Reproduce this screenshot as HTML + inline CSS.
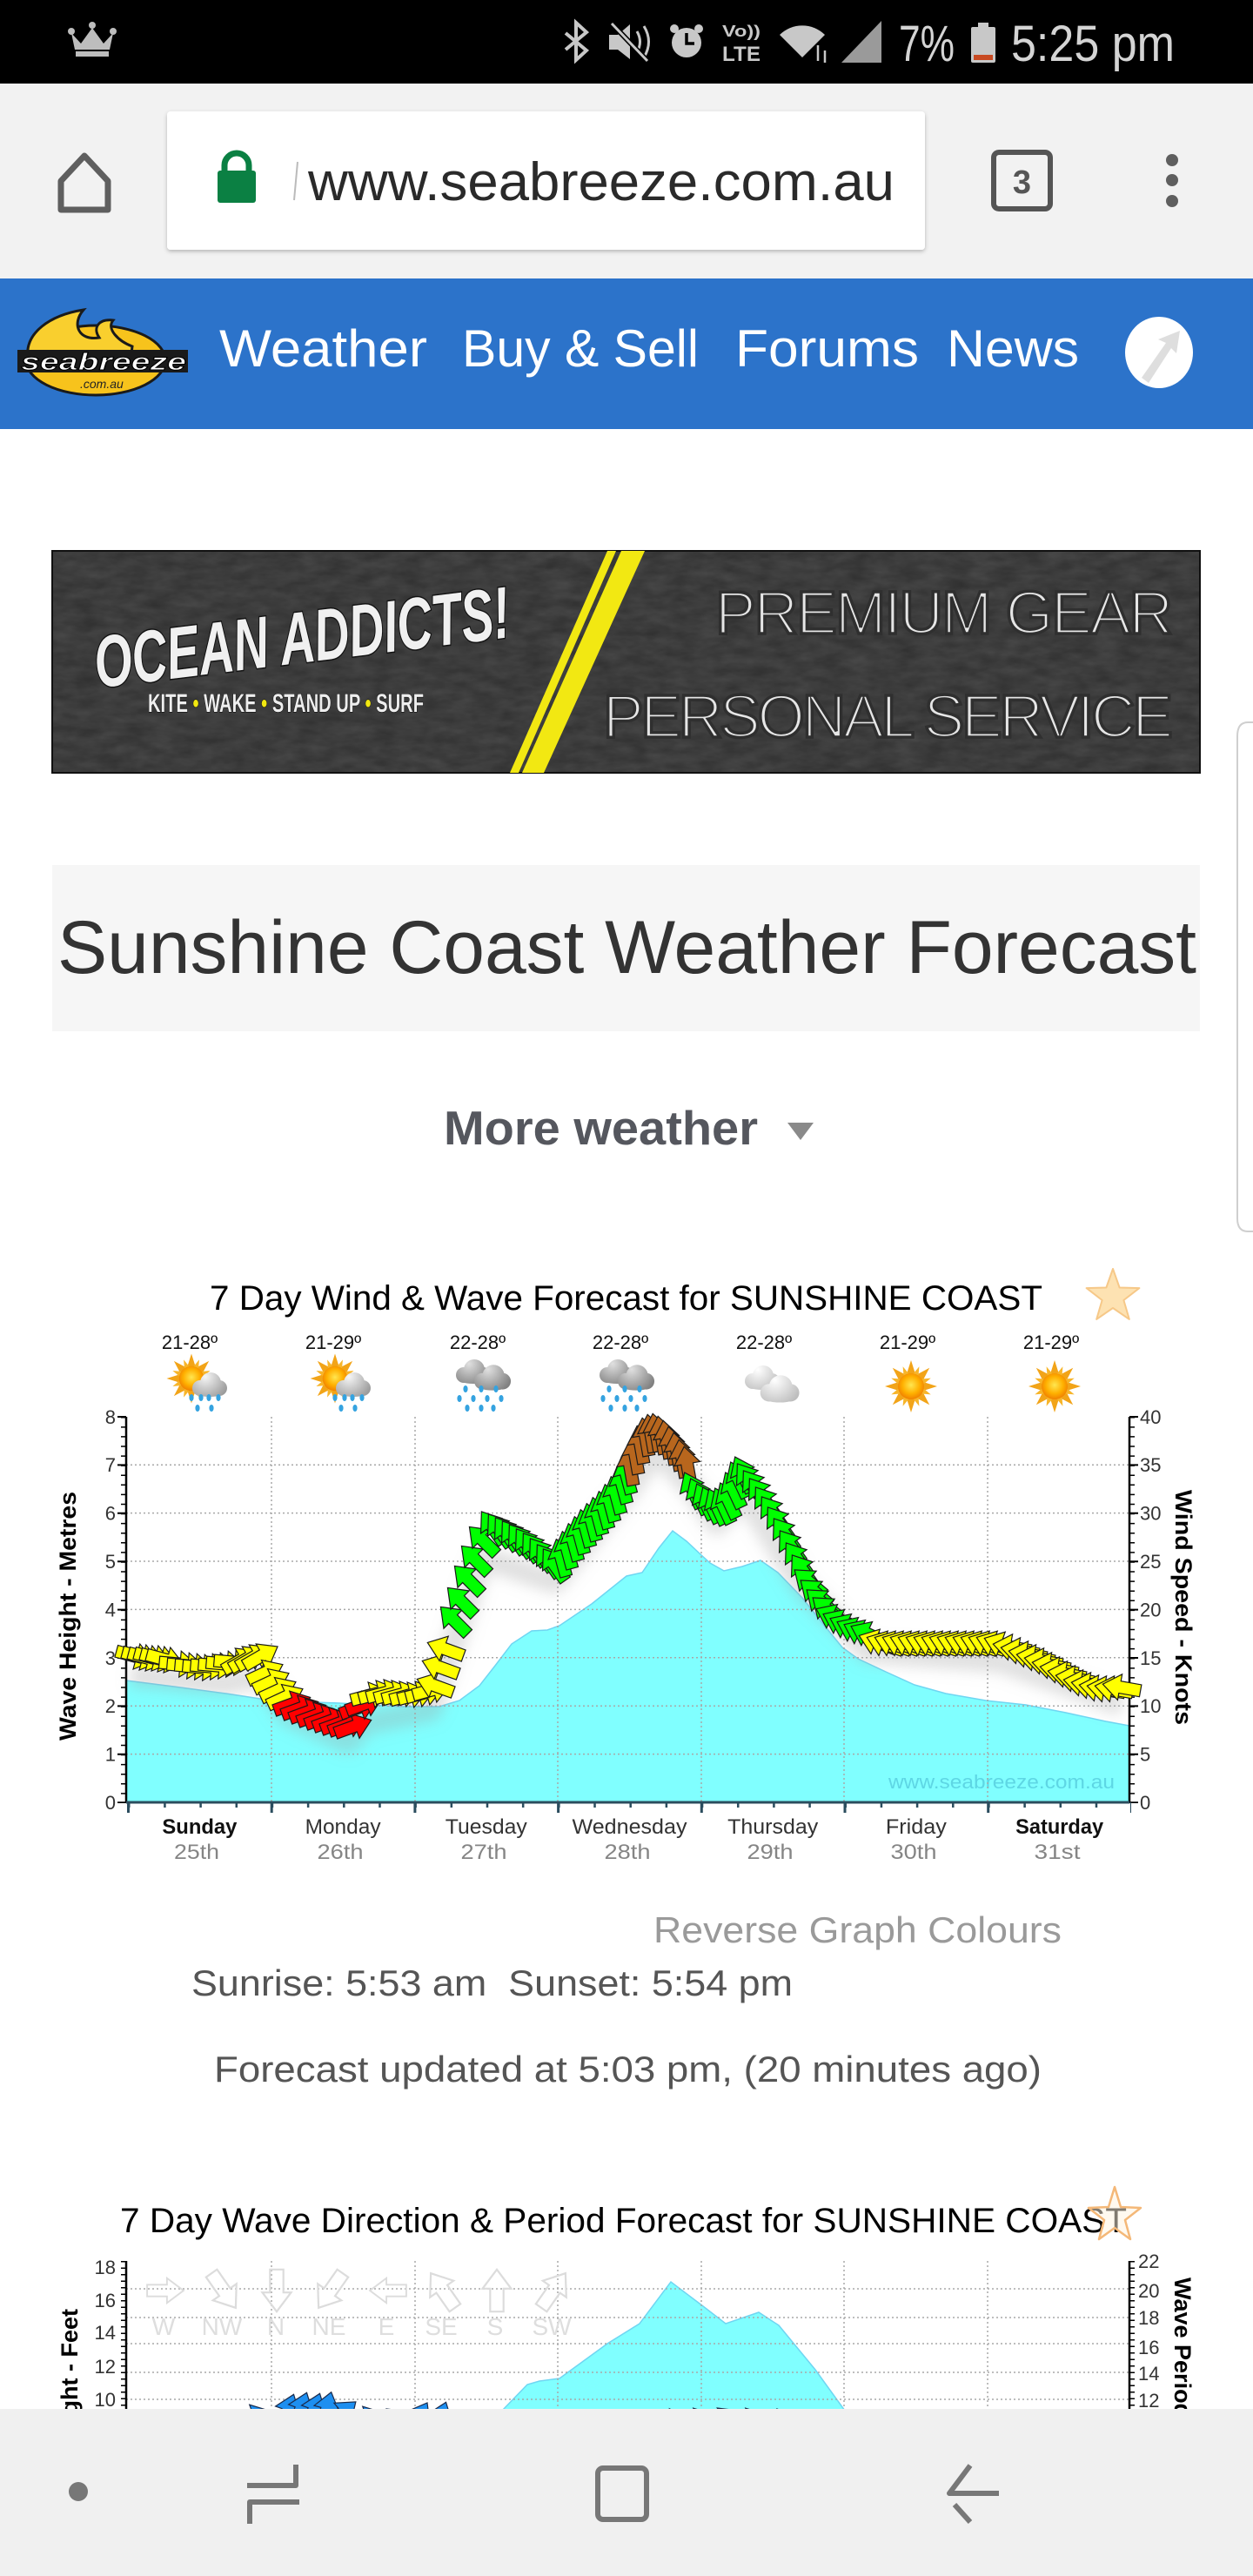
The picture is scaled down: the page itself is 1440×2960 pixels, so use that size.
<!DOCTYPE html>
<html><head><meta charset="utf-8"><title>Sunshine Coast Weather Forecast</title>
<style>
html,body{margin:0;padding:0;background:#fff;width:1440px;height:2960px;overflow:hidden}
svg{display:block}
text{font-family:"Liberation Sans",Arial,sans-serif}
</style></head><body>
<svg width="1440" height="2960" viewBox="0 0 1440 2960" xmlns="http://www.w3.org/2000/svg">
<defs>
<path id="ar" d="M-22,-7 L2,-7 L2,-15 L22,0 L2,15 L2,7 L-22,7 Z"/>
<radialGradient id="sunG" cx="50%" cy="45%" r="55%"><stop offset="0" stop-color="#ffe650"/><stop offset="0.6" stop-color="#ffb000"/><stop offset="1" stop-color="#f08000"/></radialGradient>
<radialGradient id="cloudG" gradientUnits="userSpaceOnUse" cx="-4" cy="-10" r="28"><stop offset="0" stop-color="#f6f6f6"/><stop offset="1" stop-color="#9c9c9c"/></radialGradient>
<radialGradient id="cloudD" gradientUnits="userSpaceOnUse" cx="-4" cy="-10" r="28"><stop offset="0" stop-color="#e0e0e0"/><stop offset="1" stop-color="#808080"/></radialGradient>
<radialGradient id="cloudL" gradientUnits="userSpaceOnUse" cx="-4" cy="-10" r="28"><stop offset="0" stop-color="#ffffff"/><stop offset="1" stop-color="#bdbdbd"/></radialGradient>
<polygon id="ray8" points="0,-30 5.4,-12.9 21.2,-21.2 12.9,-5.4 30,0 12.9,5.4 21.2,21.2 5.4,12.9 0,30 -5.4,12.9 -21.2,21.2 -12.9,5.4 -30,0 -12.9,-5.4 -21.2,-21.2 -5.4,-12.9"/>
<g id="sun">
<use href="#ray8" fill="#f2a418"/>
<use href="#ray8" fill="#f7b52a" transform="rotate(22.5) scale(0.82)"/>
<circle r="15" fill="url(#sunG)"/>
</g>
<g id="cloud">
<circle cx="-10" cy="3" r="9"/><circle cx="2" cy="-3" r="12"/><circle cx="12" cy="3" r="9"/><ellipse cx="1" cy="6" rx="19" ry="7"/>
</g>
<ellipse id="drop" rx="2.6" ry="4" fill="#35a3e0"/>
<filter id="blur" x="-10%" y="-30%" width="120%" height="160%"><feGaussianBlur stdDeviation="8"/></filter>
<filter id="sh" x="-5%" y="-5%" width="110%" height="120%"><feDropShadow dx="0" dy="2" stdDeviation="2.5" flood-color="#000" flood-opacity="0.25"/></filter>
<filter id="tex" x="0" y="0" width="100%" height="100%">
<feTurbulence type="fractalNoise" baseFrequency="0.035 0.09" numOctaves="3" seed="4" result="n"/>
<feColorMatrix in="n" type="matrix" values="0 0 0 0 1  0 0 0 0 1  0 0 0 0 1  0 0 0 0.22 0"/>
</filter>
</defs>

<!-- STATUS BAR -->
<rect x="0" y="0" width="1440" height="96" fill="#000"/>
<g fill="#bdbdbd">
<polygon points="82,38 93,50 106,32 119,50 130,38 126,57 86,57"/>
<rect x="87" y="59" width="38" height="6"/>
<circle cx="82" cy="36" r="4"/><circle cx="106" cy="29" r="4"/><circle cx="130" cy="36" r="4"/>
</g>
<polyline points="650,38 674,58 662,69 662,26 674,37 650,57" fill="none" stroke="#c8c8c8" stroke-width="4"/>
<polygon points="700,40 710,40 724,28 724,68 710,57 700,57" fill="#c8c8c8"/>
<path d="M732,36 Q739,48 732,60 M740,30 Q751,48 740,66" fill="none" stroke="#c8c8c8" stroke-width="3"/>
<line x1="703" y1="27" x2="744" y2="70" stroke="#000" stroke-width="6"/>
<line x1="703" y1="27" x2="744" y2="70" stroke="#c8c8c8" stroke-width="3"/>
<circle cx="775" cy="33" r="5" fill="#c8c8c8"/><circle cx="803" cy="33" r="5" fill="#c8c8c8"/>
<circle cx="789" cy="49" r="17" fill="#c8c8c8"/>
<path d="M789,38 V50 H798" fill="none" stroke="#000" stroke-width="3.5"/>
<text x="830" y="42" font-size="18" font-weight="bold" fill="#c8c8c8" textLength="44" lengthAdjust="spacingAndGlyphs">Vo))</text>
<text x="830" y="70" font-size="24" font-weight="bold" fill="#c8c8c8" textLength="44" lengthAdjust="spacingAndGlyphs">LTE</text>
<path d="M922,66 L896,40 A37,37 0 0 1 948,40 Z" fill="#c8c8c8"/>
<path d="M940,52 v18 M948,58 v14" stroke="#c8c8c8" stroke-width="2.5"/>
<polygon points="967,72 1013,24 1013,72" fill="#9a9a9a"/>
<text x="1033" y="70" font-size="58" fill="#d4d4d4" textLength="64" lengthAdjust="spacingAndGlyphs">7%</text>
<rect x="1124" y="26" width="12" height="6" fill="#c8c8c8"/>
<rect x="1116" y="31" width="28" height="41" rx="2" fill="#c8c8c8"/>
<rect x="1119" y="63" width="22" height="6" fill="#c84a22"/>
<text x="1162" y="70" font-size="58" fill="#d4d4d4" textLength="188" lengthAdjust="spacingAndGlyphs">5:25 pm</text>

<!-- BROWSER BAR -->
<rect x="0" y="96" width="1440" height="224" fill="#f2f2f2"/>
<path d="M70,241 L70,208 L97,179 L124,208 L124,241 Z" fill="none" stroke="#5f5f5f" stroke-width="7" stroke-linejoin="round"/>
<rect x="192" y="128" width="871" height="159" rx="4" fill="#fff" filter="url(#sh)"/>
<path d="M258,199 V190 A14,14 0 0 1 286,190 V199" fill="none" stroke="#0b8043" stroke-width="7"/>
<rect x="250" y="196" width="44" height="37" rx="3" fill="#0b8043"/>
<line x1="342" y1="186" x2="338" y2="230" stroke="#bbb" stroke-width="2"/>
<text x="354" y="230" font-size="62" fill="#2a2a2a" textLength="674" lengthAdjust="spacingAndGlyphs">www.seabreeze.com.au</text>
<rect x="1142" y="175" width="65" height="65" rx="6" fill="none" stroke="#555" stroke-width="6"/>
<text x="1174.5" y="222" font-size="38" font-weight="bold" fill="#555" text-anchor="middle">3</text>
<circle cx="1347" cy="184" r="7" fill="#5f5f5f"/><circle cx="1347" cy="207" r="7" fill="#5f5f5f"/><circle cx="1347" cy="231" r="7" fill="#5f5f5f"/>

<!-- NAV -->
<rect x="0" y="320" width="1440" height="173" fill="#2c73ca"/>
<ellipse cx="110" cy="414" rx="80" ry="40" fill="#f7c31c" stroke="#1a1a1a" stroke-width="3"/>
<path d="M32,412 C28,382 58,362 96,356 C82,372 90,392 114,388 C106,376 114,366 130,368 C122,378 136,392 152,398 L150,414 L32,414 Z" fill="#f9cf2e" stroke="#1a1a1a" stroke-width="3"/>
<rect x="20" y="402" width="196" height="26" fill="#1a1a1a"/>
<text x="24" y="425" font-size="28" font-weight="bold" font-style="italic" fill="#fff" stroke="#000" stroke-width="1" textLength="190" lengthAdjust="spacingAndGlyphs">seabreeze</text>
<text x="92" y="446" font-size="14" font-style="italic" fill="#222">.com.au</text>
<g fill="#fff" font-size="60">
<text x="252" y="421" textLength="239" lengthAdjust="spacingAndGlyphs">Weather</text>
<text x="531" y="421" textLength="272" lengthAdjust="spacingAndGlyphs">Buy &amp; Sell</text>
<text x="845" y="421" textLength="211" lengthAdjust="spacingAndGlyphs">Forums</text>
<text x="1088" y="421" textLength="152" lengthAdjust="spacingAndGlyphs">News</text>
</g>
<ellipse cx="1332" cy="405" rx="39" ry="41" fill="#fff"/>
<polygon points="1312,434 1340,394 1331,390 1356,380 1352,406 1346,400 1320,440" fill="#dedede"/>

<!-- EDGE HANDLE -->
<path d="M1440,830 L1434,830 Q1422,830 1422,846 L1422,1400 Q1422,1415 1434,1415 L1440,1415" fill="#fff" stroke="#cfcfcf" stroke-width="2"/>

<!-- AD BANNER -->
<rect x="60" y="633" width="1319" height="255" fill="#2f2f2f" stroke="#111" stroke-width="2"/>
<rect x="61" y="634" width="1317" height="253" filter="url(#tex)" opacity="0.6"/>
<polygon points="698,633 708,633 596,888 586,888" fill="#f2e812"/>
<polygon points="714,633 741,633 625,888 600,888" fill="#f2e812"/>
<text x="822" y="728" font-size="70" fill="#e6e6e6" stroke="#2f2f2f" stroke-width="3.5" textLength="526">PREMIUM GEAR</text>
<text x="693" y="847" font-size="70" fill="#e6e6e6" stroke="#2f2f2f" stroke-width="3.5" textLength="655">PERSONAL SERVICE</text>
<g transform="rotate(-7 115 790)">
<text x="112" y="790" font-size="84" font-weight="bold" font-style="italic" fill="#f0f0f0" stroke="#111" stroke-width="3" paint-order="stroke" textLength="480" lengthAdjust="spacingAndGlyphs">OCEAN ADDICTS!</text>
</g>
<text x="170" y="818" font-size="30" font-weight="bold" fill="#eee" stroke="#000" stroke-width="1" paint-order="stroke" textLength="317" lengthAdjust="spacingAndGlyphs">KITE <tspan fill="#f2e812">•</tspan> WAKE <tspan fill="#f2e812">•</tspan> STAND UP <tspan fill="#f2e812">•</tspan> SURF</text>

<!-- TITLE -->
<rect x="60" y="994" width="1319" height="191" fill="#f6f6f6"/>
<text x="66" y="1118" font-size="86" fill="#333" textLength="1309" lengthAdjust="spacingAndGlyphs">Sunshine Coast Weather Forecast</text>
<text x="510" y="1315" font-size="55" font-weight="bold" fill="#55575e" textLength="361" lengthAdjust="spacingAndGlyphs">More weather</text>
<polygon points="905,1290 935,1290 920,1310" fill="#8a8a8a"/>

<!-- CHART 1 -->
<text x="241" y="1505" font-size="40" fill="#000" textLength="957" lengthAdjust="spacingAndGlyphs">7 Day Wind &amp; Wave Forecast for SUNSHINE COAST</text>
<polygon points="1279,1458 1286.6,1479.5 1309.4,1480.1 1291.4,1494 1297.8,1515.9 1279,1503 1260.2,1515.9 1266.6,1494 1248.6,1480.1 1271.4,1479.5" fill="#fde2b2" stroke="#f6c888" stroke-width="2" stroke-linejoin="round"/>
<g font-size="22" fill="#111" text-anchor="middle">
<text x="218" y="1550">21-28º</text><text x="383" y="1550">21-29º</text><text x="549" y="1550">22-28º</text><text x="713" y="1550">22-28º</text><text x="878" y="1550">22-28º</text><text x="1043" y="1550">21-29º</text><text x="1208" y="1550">21-29º</text>
</g>
<!-- icons -->
<g transform="translate(227,1592)">
<use href="#sun" transform="translate(-7,-8) scale(0.95)"/>
<use href="#cloud" fill="url(#cloudG)" transform="translate(13,0)"/>
<use href="#drop" x="-7" y="14"/><use href="#drop" x="4" y="14"/><use href="#drop" x="13" y="14"/><use href="#drop" x="24" y="14"/><use href="#drop" x="0" y="26"/><use href="#drop" x="16" y="26"/>
</g>
<g transform="translate(392,1592)">
<use href="#sun" transform="translate(-7,-8) scale(0.95)"/>
<use href="#cloud" fill="url(#cloudG)" transform="translate(13,0)"/>
<use href="#drop" x="-7" y="14"/><use href="#drop" x="4" y="14"/><use href="#drop" x="13" y="14"/><use href="#drop" x="24" y="14"/><use href="#drop" x="0" y="26"/><use href="#drop" x="16" y="26"/>
</g>
<g transform="translate(556,1592)">
<use href="#cloud" fill="url(#cloudD)" transform="translate(-13,-15)"/>
<use href="#cloud" fill="url(#cloudD)" transform="translate(9,-8) scale(1.05)"/>
<use href="#drop" x="-21" y="4"/><use href="#drop" x="-3" y="4"/><use href="#drop" x="14" y="4"/>
<use href="#drop" x="-28" y="15"/><use href="#drop" x="-12" y="15"/><use href="#drop" x="4" y="15"/><use href="#drop" x="20" y="15"/>
<use href="#drop" x="-19" y="26"/><use href="#drop" x="-3" y="26"/><use href="#drop" x="11" y="26"/>
</g>
<g transform="translate(721,1592)">
<use href="#cloud" fill="url(#cloudD)" transform="translate(-13,-15)"/>
<use href="#cloud" fill="url(#cloudD)" transform="translate(9,-8) scale(1.05)"/>
<use href="#drop" x="-21" y="4"/><use href="#drop" x="-3" y="4"/><use href="#drop" x="14" y="4"/>
<use href="#drop" x="-28" y="15"/><use href="#drop" x="-12" y="15"/><use href="#drop" x="4" y="15"/><use href="#drop" x="20" y="15"/>
<use href="#drop" x="-19" y="26"/><use href="#drop" x="-3" y="26"/><use href="#drop" x="11" y="26"/>
</g>
<g transform="translate(884,1592)">
<use href="#cloud" fill="url(#cloudL)" transform="translate(-9,-8)"/>
<use href="#cloud" fill="url(#cloudL)" transform="translate(11,5) scale(1.12)"/>
</g>
<use href="#sun" transform="translate(1047,1593)"/>
<use href="#sun" transform="translate(1212,1593)"/>

<!-- area -->
<polygon points="145,2071 145,1931 200,1938 260,1946 312,1954 390,1957 459,1961 505,1961 528,1954 551,1937 569,1914 588,1889 611,1874 629,1873 643,1868 680,1843 720,1811 738,1807 757,1779 773,1759 789,1771 805,1786 816,1796 832,1805 853,1800 874,1793 894,1807 922,1836 950,1871 968,1893 986,1906 1018,1921 1051,1936 1087,1946 1133,1954 1179,1959 1225,1968 1271,1978 1298,1983 1298,2071" fill="#80ffff" stroke="#6fd6f2" stroke-width="1.5"/>
<text x="1021" y="2055" font-size="22" fill="#5ed6e4" textLength="260" lengthAdjust="spacingAndGlyphs">www.seabreeze.com.au</text>
<!-- grid -->
<g stroke="#a8a8a8" stroke-width="1.5" stroke-dasharray="2,3" fill="none">
<path d="M145,2015.6 H1298 M145,1960.2 H1298 M145,1904.8 H1298 M145,1849.4 H1298 M145,1794 H1298 M145,1738.6 H1298 M145,1683.2 H1298"/>
<path d="M312,1628 V2071 M477,1628 V2071 M641,1628 V2071 M806,1628 V2071 M970,1628 V2071 M1135,1628 V2071"/>
</g>
<!-- axes -->
<line x1="145" y1="1628" x2="145" y2="2072" stroke="#000" stroke-width="2.5"/>
<line x1="142" y1="1628" x2="142" y2="2071" stroke="#000" stroke-width="6" stroke-dasharray="1.5,9.58"/>
<line x1="140" y1="1627" x2="140" y2="2072" stroke="#000" stroke-width="10" stroke-dasharray="2,53.4"/>
<line x1="1298" y1="1628" x2="1298" y2="2072" stroke="#000" stroke-width="2.5"/>
<line x1="1301" y1="1628" x2="1301" y2="2071" stroke="#000" stroke-width="6" stroke-dasharray="1.5,9.58"/>
<line x1="1303" y1="1627" x2="1303" y2="2072" stroke="#000" stroke-width="10" stroke-dasharray="2,53.4"/>
<line x1="145" y1="2071" x2="1298" y2="2071" stroke="#2b4d5e" stroke-width="3"/>
<line x1="147" y1="2074" x2="1300" y2="2074" stroke="#2b4d5e" stroke-width="6" stroke-dasharray="2.5,38.675"/>
<line x1="146" y1="2077" x2="1300" y2="2077" stroke="#2b4d5e" stroke-width="12" stroke-dasharray="3,161.7"/>
<g font-size="22" fill="#333" text-anchor="end">
<text x="133" y="2079">0</text><text x="133" y="2023.6">1</text><text x="133" y="1968.2">2</text><text x="133" y="1912.8">3</text><text x="133" y="1857.4">4</text><text x="133" y="1802">5</text><text x="133" y="1746.6">6</text><text x="133" y="1691.2">7</text><text x="133" y="1635.8">8</text>
</g>
<g font-size="22" fill="#333">
<text x="1310" y="2079">0</text><text x="1310" y="2023.6">5</text><text x="1310" y="1968.2">10</text><text x="1310" y="1912.8">15</text><text x="1310" y="1857.4">20</text><text x="1310" y="1802">25</text><text x="1310" y="1746.6">30</text><text x="1310" y="1691.2">35</text><text x="1310" y="1635.8">40</text>
</g>
<text transform="translate(87,1857) rotate(-90)" font-size="27" font-weight="bold" fill="#000" text-anchor="middle" textLength="286" lengthAdjust="spacingAndGlyphs">Wave Height - Metres</text>
<text transform="translate(1351,1847) rotate(90)" font-size="27" font-weight="bold" fill="#000" text-anchor="middle" textLength="270" lengthAdjust="spacingAndGlyphs">Wind Speed - Knots</text>
<g font-size="24" text-anchor="middle">
<text x="229.4" y="2107" font-weight="bold" fill="#111" textLength="86" lengthAdjust="spacingAndGlyphs">Sunday</text>
<text x="394.1" y="2107" fill="#333" textLength="87" lengthAdjust="spacingAndGlyphs">Monday</text>
<text x="558.8" y="2107" fill="#333" textLength="94" lengthAdjust="spacingAndGlyphs">Tuesday</text>
<text x="723.5" y="2107" fill="#333" textLength="132" lengthAdjust="spacingAndGlyphs">Wednesday</text>
<text x="888.2" y="2107" fill="#333" textLength="104" lengthAdjust="spacingAndGlyphs">Thursday</text>
<text x="1052.9" y="2107" fill="#333" textLength="70" lengthAdjust="spacingAndGlyphs">Friday</text>
<text x="1217.6" y="2107" font-weight="bold" fill="#111" textLength="101" lengthAdjust="spacingAndGlyphs">Saturday</text>
</g>
<g font-size="24" text-anchor="middle" fill="#858585">
<text x="226" y="2136" textLength="52" lengthAdjust="spacingAndGlyphs">25th</text>
<text x="391" y="2136" textLength="53" lengthAdjust="spacingAndGlyphs">26th</text>
<text x="556" y="2136" textLength="53" lengthAdjust="spacingAndGlyphs">27th</text>
<text x="721" y="2136" textLength="53" lengthAdjust="spacingAndGlyphs">28th</text>
<text x="885" y="2136" textLength="53" lengthAdjust="spacingAndGlyphs">29th</text>
<text x="1050" y="2136" textLength="53" lengthAdjust="spacingAndGlyphs">30th</text>
<text x="1215" y="2136" textLength="53" lengthAdjust="spacingAndGlyphs">31st</text>
</g>

<!-- shadow under arrows -->
<polyline transform="translate(0,20)" points="150,1905 260,1915 300,1905 330,1950 400,1982 420,1960 495,1945 512,1895 555,1770 637,1798 720,1695 754,1646 790,1684 824,1731 854,1694 923,1805 998,1878 1150,1889 1290,1939" fill="none" stroke="#a0a0a0" stroke-opacity="0.32" stroke-width="26" stroke-linejoin="round" filter="url(#blur)"/>

<!-- wind arrows -->
<g stroke="#1a1a1a" stroke-width="1.2" stroke-linejoin="miter">
<g fill="#ffff00">
<use href="#ar" transform="translate(155,1903) rotate(15)"/><use href="#ar" transform="translate(162,1904) rotate(15)"/><use href="#ar" transform="translate(169,1905) rotate(15)"/><use href="#ar" transform="translate(176,1905) rotate(15)"/><use href="#ar" transform="translate(183,1906) rotate(15)"/><use href="#ar" transform="translate(190,1907) rotate(15)"/>
<use href="#ar" transform="translate(205,1912) rotate(5)"/><use href="#ar" transform="translate(214,1914) rotate(5)"/><use href="#ar" transform="translate(223,1915) rotate(5)"/><use href="#ar" transform="translate(232,1916) rotate(5)"/><use href="#ar" transform="translate(241,1915) rotate(5)"/><use href="#ar" transform="translate(250,1914) rotate(5)"/><use href="#ar" transform="translate(259,1912) rotate(5)"/><use href="#ar" transform="translate(268,1910) rotate(5)"/>
<use href="#ar" transform="translate(276,1908) rotate(-30)"/><use href="#ar" transform="translate(284,1906) rotate(-30)"/><use href="#ar" transform="translate(292,1904) rotate(-30)"/><use href="#ar" transform="translate(300,1903) rotate(-30)"/>
<use href="#ar" transform="translate(305,1922) rotate(-25)"/><use href="#ar" transform="translate(312,1932) rotate(-25)"/><use href="#ar" transform="translate(320,1942) rotate(-25)"/><use href="#ar" transform="translate(328,1950) rotate(-25)"/>
</g>
<g fill="#ff0000">
<use href="#ar" transform="translate(336,1958) rotate(-20)"/><use href="#ar" transform="translate(345,1963) rotate(-20)"/><use href="#ar" transform="translate(354,1967) rotate(-20)"/><use href="#ar" transform="translate(363,1971) rotate(-20)"/><use href="#ar" transform="translate(372,1974) rotate(-20)"/><use href="#ar" transform="translate(381,1977) rotate(-20)"/><use href="#ar" transform="translate(390,1980) rotate(-20)"/><use href="#ar" transform="translate(399,1982) rotate(-20)"/><use href="#ar" transform="translate(406,1984) rotate(-20)"/><use href="#ar" transform="translate(412,1962) rotate(-20)"/><use href="#ar" transform="translate(419,1958) rotate(-20)"/>
</g>
<g fill="#ffff00">
<use href="#ar" transform="translate(425,1948) rotate(-15)"/><use href="#ar" transform="translate(434,1946) rotate(-15)"/><use href="#ar" transform="translate(443,1945) rotate(-15)"/><use href="#ar" transform="translate(452,1946) rotate(-15)"/><use href="#ar" transform="translate(461,1947) rotate(-15)"/><use href="#ar" transform="translate(470,1948) rotate(-15)"/><use href="#ar" transform="translate(479,1947) rotate(-15)"/><use href="#ar" transform="translate(488,1945) rotate(-15)"/><use href="#ar" transform="translate(496,1942) rotate(-15)"/>
<use href="#ar" transform="translate(500,1937) rotate(-160)"/><use href="#ar" transform="translate(506,1916) rotate(-160)"/><use href="#ar" transform="translate(512,1895) rotate(-160)"/>
</g>
<g fill="#00ff00">
<use href="#ar" transform="translate(522,1862) rotate(-135)"/><use href="#ar" transform="translate(530,1840) rotate(-135)"/><use href="#ar" transform="translate(538,1815) rotate(-135)"/><use href="#ar" transform="translate(546,1792) rotate(-135)"/><use href="#ar" transform="translate(555,1770) rotate(-135)"/>
<use href="#ar" transform="translate(566,1755) rotate(-125)"/><use href="#ar" transform="translate(574,1758) rotate(-125)"/><use href="#ar" transform="translate(582,1762) rotate(-125)"/><use href="#ar" transform="translate(590,1766) rotate(-125)"/><use href="#ar" transform="translate(598,1770) rotate(-125)"/><use href="#ar" transform="translate(606,1775) rotate(-125)"/><use href="#ar" transform="translate(614,1780) rotate(-125)"/><use href="#ar" transform="translate(622,1786) rotate(-125)"/><use href="#ar" transform="translate(630,1793) rotate(-125)"/><use href="#ar" transform="translate(637,1798) rotate(-125)"/>
<use href="#ar" transform="translate(645,1790) rotate(-105)"/><use href="#ar" transform="translate(652,1781) rotate(-105)"/><use href="#ar" transform="translate(659,1772) rotate(-105)"/><use href="#ar" transform="translate(666,1764) rotate(-105)"/><use href="#ar" transform="translate(673,1756) rotate(-105)"/><use href="#ar" transform="translate(680,1749) rotate(-105)"/><use href="#ar" transform="translate(687,1742) rotate(-105)"/><use href="#ar" transform="translate(694,1735) rotate(-105)"/><use href="#ar" transform="translate(701,1727) rotate(-105)"/><use href="#ar" transform="translate(708,1718) rotate(-105)"/><use href="#ar" transform="translate(715,1706) rotate(-105)"/><use href="#ar" transform="translate(720,1695) rotate(-105)"/>
</g>
<g fill="#b8661d">
<use href="#ar" transform="translate(724,1685) rotate(-100)"/><use href="#ar" transform="translate(730,1672) rotate(-100)"/><use href="#ar" transform="translate(736,1660) rotate(-100)"/><use href="#ar" transform="translate(742,1651) rotate(-100)"/><use href="#ar" transform="translate(748,1647) rotate(-100)"/><use href="#ar" transform="translate(754,1646) rotate(-100)"/><use href="#ar" transform="translate(760,1649) rotate(-100)"/><use href="#ar" transform="translate(766,1654) rotate(-100)"/><use href="#ar" transform="translate(772,1661) rotate(-100)"/><use href="#ar" transform="translate(778,1668) rotate(-100)"/><use href="#ar" transform="translate(784,1676) rotate(-100)"/><use href="#ar" transform="translate(790,1684) rotate(-100)"/>
</g>
<g fill="#00ff00">
<use href="#ar" transform="translate(796,1712) rotate(-115)"/><use href="#ar" transform="translate(803,1719) rotate(-115)"/><use href="#ar" transform="translate(810,1725) rotate(-115)"/><use href="#ar" transform="translate(817,1729) rotate(-115)"/><use href="#ar" transform="translate(824,1731) rotate(-115)"/><use href="#ar" transform="translate(831,1730) rotate(-115)"/><use href="#ar" transform="translate(837,1724) rotate(-115)"/><use href="#ar" transform="translate(843,1712) rotate(-115)"/><use href="#ar" transform="translate(849,1700) rotate(-115)"/><use href="#ar" transform="translate(854,1694) rotate(-115)"/>
<use href="#ar" transform="translate(860,1700) rotate(-125)"/><use href="#ar" transform="translate(867,1708) rotate(-125)"/><use href="#ar" transform="translate(874,1717) rotate(-125)"/><use href="#ar" transform="translate(881,1727) rotate(-125)"/><use href="#ar" transform="translate(888,1738) rotate(-125)"/><use href="#ar" transform="translate(895,1750) rotate(-125)"/><use href="#ar" transform="translate(902,1763) rotate(-125)"/><use href="#ar" transform="translate(909,1777) rotate(-125)"/><use href="#ar" transform="translate(916,1791) rotate(-125)"/><use href="#ar" transform="translate(923,1805) rotate(-125)"/>
<use href="#ar" transform="translate(930,1818) rotate(-140)"/><use href="#ar" transform="translate(937,1830) rotate(-140)"/><use href="#ar" transform="translate(944,1841) rotate(-140)"/><use href="#ar" transform="translate(951,1850) rotate(-140)"/>
<use href="#ar" transform="translate(958,1858) rotate(-155)"/><use href="#ar" transform="translate(966,1864) rotate(-155)"/><use href="#ar" transform="translate(974,1869) rotate(-155)"/><use href="#ar" transform="translate(982,1873) rotate(-155)"/><use href="#ar" transform="translate(990,1876) rotate(-155)"/><use href="#ar" transform="translate(998,1878) rotate(-155)"/>
</g>
<g fill="#ffff00">
<use href="#ar" transform="translate(1008,1887) rotate(-160)"/><use href="#ar" transform="translate(1017,1889) rotate(-160)"/><use href="#ar" transform="translate(1026,1889) rotate(-160)"/><use href="#ar" transform="translate(1035,1889) rotate(-160)"/><use href="#ar" transform="translate(1044,1889) rotate(-160)"/><use href="#ar" transform="translate(1053,1889) rotate(-160)"/><use href="#ar" transform="translate(1062,1889) rotate(-160)"/><use href="#ar" transform="translate(1071,1889) rotate(-160)"/><use href="#ar" transform="translate(1080,1889) rotate(-160)"/><use href="#ar" transform="translate(1089,1889) rotate(-160)"/><use href="#ar" transform="translate(1098,1889) rotate(-160)"/><use href="#ar" transform="translate(1107,1889) rotate(-160)"/><use href="#ar" transform="translate(1116,1889) rotate(-160)"/><use href="#ar" transform="translate(1125,1889) rotate(-160)"/><use href="#ar" transform="translate(1134,1889) rotate(-160)"/><use href="#ar" transform="translate(1143,1889) rotate(-160)"/><use href="#ar" transform="translate(1152,1890) rotate(-160)"/>
<use href="#ar" transform="translate(1163,1893) rotate(-170)"/><use href="#ar" transform="translate(1172,1897) rotate(-170)"/><use href="#ar" transform="translate(1181,1901) rotate(-170)"/><use href="#ar" transform="translate(1190,1905) rotate(-170)"/><use href="#ar" transform="translate(1199,1909) rotate(-170)"/><use href="#ar" transform="translate(1208,1914) rotate(-170)"/><use href="#ar" transform="translate(1217,1919) rotate(-170)"/><use href="#ar" transform="translate(1226,1924) rotate(-170)"/><use href="#ar" transform="translate(1235,1929) rotate(-170)"/><use href="#ar" transform="translate(1244,1934) rotate(-170)"/><use href="#ar" transform="translate(1253,1937) rotate(-170)"/><use href="#ar" transform="translate(1262,1940) rotate(-170)"/><use href="#ar" transform="translate(1271,1941) rotate(-170)"/><use href="#ar" transform="translate(1280,1941) rotate(-170)"/><use href="#ar" transform="translate(1289,1939) rotate(-170)"/>
</g>
</g>

<!-- TEXT BELOW CHART -->
<text x="751" y="2232" font-size="42" fill="#9a9a9a" textLength="469" lengthAdjust="spacingAndGlyphs">Reverse Graph Colours</text>
<text x="220" y="2293" font-size="42" fill="#555" textLength="691" lengthAdjust="spacingAndGlyphs" xml:space="preserve">Sunrise: 5:53 am  Sunset: 5:54 pm</text>
<text x="246" y="2392" font-size="42" fill="#555" textLength="951" lengthAdjust="spacingAndGlyphs">Forecast updated at 5:03 pm, (20 minutes ago)</text>

<!-- CHART 2 -->
<text x="138" y="2565" font-size="40" fill="#000" textLength="1157" lengthAdjust="spacingAndGlyphs">7 Day Wave Direction &amp; Period Forecast for SUNSHINE COAST</text>
<polygon points="1281,2513 1288,2536 1311,2537 1293,2551 1299,2573 1281,2560 1263,2573 1269,2551 1251,2537 1274,2536" fill="#fff3e0" fill-opacity="0.5" stroke="#f4b878" stroke-width="2.5" stroke-linejoin="round"/>
<polygon points="577,2770 606,2740 620,2736 643,2733 698,2693 735,2670 771,2622 808,2650 834,2670 872,2657 895,2672 937,2723 971,2770" fill="#80ffff" stroke="#6fd6f2" stroke-width="1.5"/>
<g stroke="#a8a8a8" stroke-width="1.5" stroke-dasharray="2,3" fill="none">
<path d="M145,2630 H1298 M145,2663 H1298 M145,2693 H1298 M145,2726 H1298 M145,2757 H1298"/>
<path d="M312,2598 V2770 M477,2598 V2770 M641,2598 V2770 M806,2598 V2770 M970,2598 V2770 M1135,2598 V2770"/>
</g>
<g fill="none" stroke="#dcdcdc" stroke-width="2">
<use href="#ar" transform="translate(190,2632) scale(0.95)"/>
<use href="#ar" transform="translate(257,2632) rotate(55) scale(1.1)"/>
<use href="#ar" transform="translate(318,2632) rotate(90) scale(1.1)"/>
<use href="#ar" transform="translate(380,2632) rotate(125) scale(1.1)"/>
<use href="#ar" transform="translate(446,2632) rotate(180) scale(0.95)"/>
<use href="#ar" transform="translate(509,2632) rotate(-125) scale(1.1)"/>
<use href="#ar" transform="translate(571,2632) rotate(-90) scale(1.1)"/>
<use href="#ar" transform="translate(636,2632) rotate(-55) scale(1.1)"/>
</g>
<g font-size="28" fill="#dedede" text-anchor="middle">
<text x="188" y="2683">W</text><text x="255" y="2683">NW</text><text x="317" y="2683">N</text><text x="378" y="2683">NE</text><text x="444" y="2683">E</text><text x="507" y="2683">SE</text><text x="569" y="2683">S</text><text x="634" y="2683">SW</text>
</g>
<g stroke="#1a2a4a" stroke-width="1.2">
<g fill="#1e8ff0">
<use href="#ar" transform="translate(290,2778) rotate(-20)"/><use href="#ar" transform="translate(330,2772) rotate(-70)"/><use href="#ar" transform="translate(345,2770) rotate(-70)"/><use href="#ar" transform="translate(360,2771) rotate(-70)"/><use href="#ar" transform="translate(375,2770) rotate(-75)"/><use href="#ar" transform="translate(392,2774) rotate(-40)"/><use href="#ar" transform="translate(420,2780) rotate(-20)"/><use href="#ar" transform="translate(450,2782) rotate(-30)"/><use href="#ar" transform="translate(480,2780) rotate(-60)"/><use href="#ar" transform="translate(505,2781) rotate(-70)"/>
</g>
<g fill="#1c5a9e">
<use href="#ar" transform="translate(770,2783) rotate(-10)"/><use href="#ar" transform="translate(800,2782) rotate(-20)"/><use href="#ar" transform="translate(830,2781) rotate(-30)"/><use href="#ar" transform="translate(860,2782) rotate(-20)"/><use href="#ar" transform="translate(895,2783) rotate(-15)"/>
</g>
</g>
<line x1="145" y1="2598" x2="145" y2="2770" stroke="#000" stroke-width="2.5"/>
<line x1="142" y1="2598" x2="142" y2="2770" stroke="#000" stroke-width="6" stroke-dasharray="1.5,6"/>
<line x1="1298" y1="2598" x2="1298" y2="2770" stroke="#000" stroke-width="2.5"/>
<line x1="1301" y1="2598" x2="1301" y2="2770" stroke="#000" stroke-width="6" stroke-dasharray="1.5,6"/>
<g font-size="22" fill="#333" text-anchor="end">
<text x="133" y="2613">18</text><text x="133" y="2651">16</text><text x="133" y="2688">14</text><text x="133" y="2727">12</text><text x="133" y="2765">10</text>
</g>
<g font-size="22" fill="#333">
<text x="1308" y="2606">22</text><text x="1308" y="2640">20</text><text x="1308" y="2671">18</text><text x="1308" y="2705">16</text><text x="1308" y="2735">14</text><text x="1308" y="2766">12</text>
</g>
<text transform="translate(89,2653) rotate(-90)" font-size="27" font-weight="bold" fill="#000" text-anchor="end">Wave Height - Feet</text>
<text transform="translate(1350,2617) rotate(90)" font-size="27" font-weight="bold" fill="#000">Wave Period - Seconds</text>

<!-- BOTTOM NAV -->
<rect x="0" y="2768" width="1440" height="192" fill="#f0f0f0"/>
<circle cx="90" cy="2863" r="11" fill="#777"/>
<path d="M340,2832 V2856 H284 M344,2875 H287 V2900" fill="none" stroke="#777" stroke-width="6" stroke-linejoin="round"/>
<rect x="687" y="2836" width="56" height="59" rx="6" fill="none" stroke="#777" stroke-width="6"/>
<path d="M1115,2833 L1091,2865 H1148 M1097,2878 L1115,2898" fill="none" stroke="#777" stroke-width="6" stroke-linejoin="round"/>
</svg>
</body></html>
